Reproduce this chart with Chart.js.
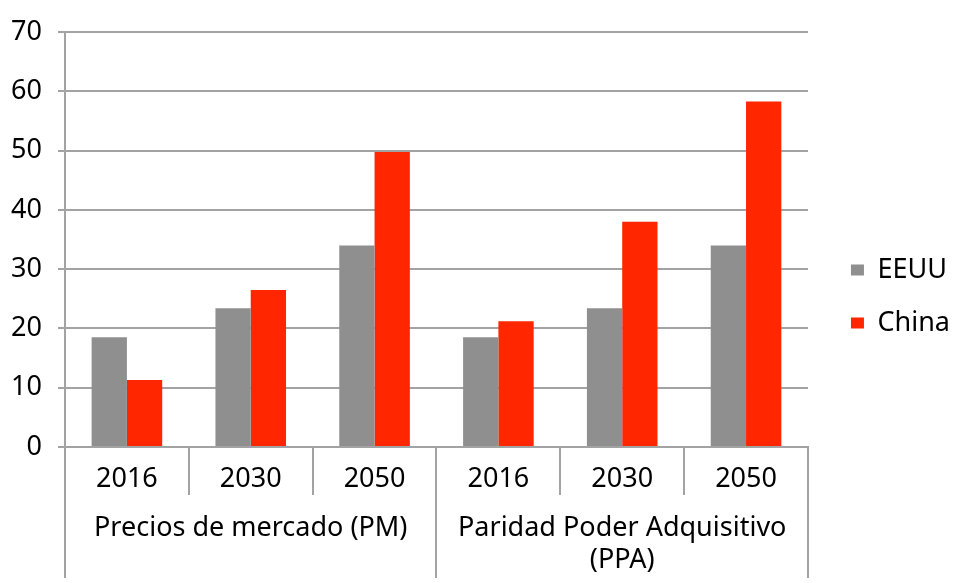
<!DOCTYPE html>
<html>
<head>
<meta charset="utf-8">
<script src="https://cdn.jsdelivr.net/npm/chart.js@4/dist/chart.umd.min.js"></script>
<style>
  body { margin: 0; background: #fff; }
  #wrap { width: 960px; height: 583px; }
</style>
</head>
<body>
<div id="wrap"><canvas id="chart"></canvas></div>
<script>
// ─── DATA ────────────────────────────────────────────────────
const years = ['2016', '2030', '2050', '2016', '2030', '2050'];
const groups = ['Precios de mercado (PM)', ['Paridad Poder Adquisitivo', '(PPA)']];
const eeuu = [18.5, 23.4, 34.0, 18.5, 23.4, 34.0];
const china = [11.3, 26.5, 49.8, 21.2, 38.0, 58.3];

const GRID = '#a3a3a3';
const FONT = { family: 'Noto Sans', size: 27 };

Chart.defaults.font.family = 'Noto Sans';
Chart.defaults.color = '#000';

new Chart(document.getElementById('chart'), {
  type: 'bar',
  data: {
    labels: years,
    datasets: [
      { label: 'EEUU', data: eeuu, backgroundColor: '#8f8f8f', borderWidth: 0 },
      { label: 'China', data: china, backgroundColor: '#ff2600', borderWidth: 0 }
    ]
  },
  options: {
    responsive: true,
    maintainAspectRatio: false,
    animation: false,
    datasets: { bar: { categoryPercentage: 0.57, barPercentage: 1 } },
    layout: { padding: { top: 15, right: 0, bottom: 5, left: 0 } },
    plugins: {
      tooltip: { enabled: false },
      legend: {
        position: 'right',
        labels: { font: FONT, color: '#000', boxWidth: 13, boxHeight: 11, padding: 26 }
      }
    },
    scales: {
      y: {
        min: 0, max: 70,
        ticks: { stepSize: 10, font: FONT, color: '#000', padding: 16 },
        grid: { color: GRID, lineWidth: 2, tickLength: 7 },
        border: { display: true, color: GRID, width: 2 },
        afterFit: s => { s.width = 65; }
      },
      // empty spacer between plot and legend
      gap: {
        type: 'linear',
        position: 'right',
        ticks: { display: false },
        grid: { display: false },
        border: { display: false },
        afterFit: s => { s.width = 17; }
      },
      x: {
        ticks: { font: FONT, color: '#000', padding: -32, autoSkip: false, maxRotation: 0 },
        grid: { offset: true, drawOnChartArea: false, color: GRID, lineWidth: 2, tickLength: 48 },
        border: { display: true, color: GRID, width: 2 },
        afterFit: s => { s.height = 48; }
      },
      x2: {
        type: 'category',
        position: 'bottom',
        labels: groups,
        offset: true,
        ticks: { font: FONT, color: '#000', padding: -66, autoSkip: false, maxRotation: 0 },
        grid: { offset: true, drawOnChartArea: false, color: GRID, lineWidth: 2, tickLength: 83 },
        border: { display: false },
        afterFit: s => { s.height = 83; }
      }
    }
  }
});
</script>
</body>
</html>
